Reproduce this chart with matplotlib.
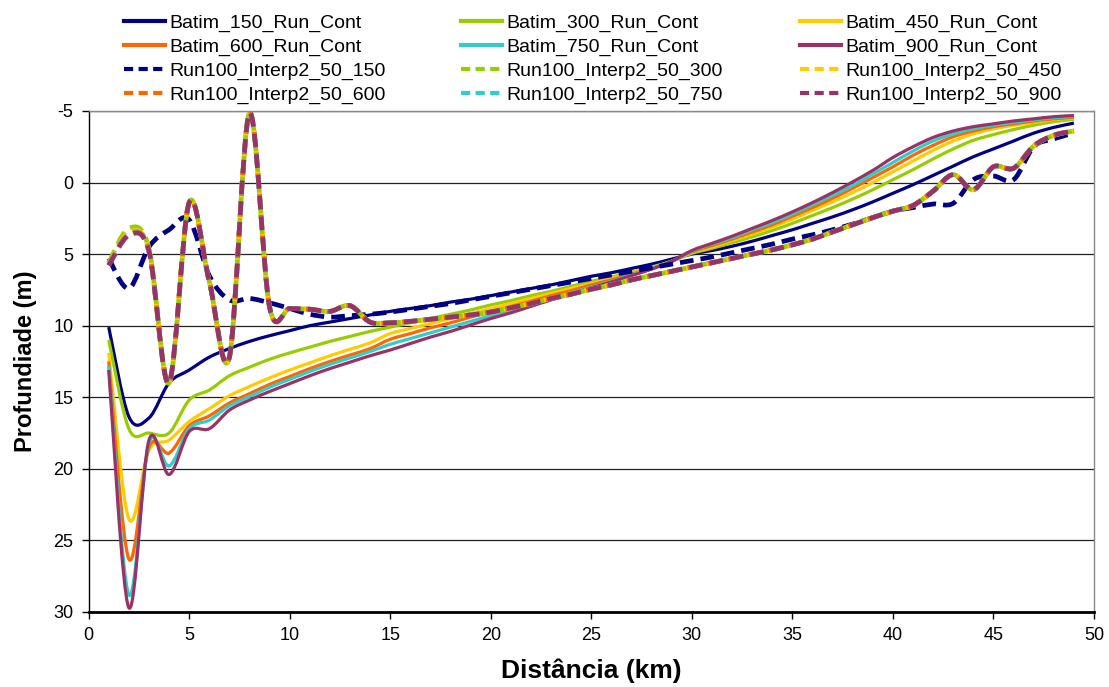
import matplotlib
matplotlib.use("Agg")
import matplotlib.pyplot as plt
from matplotlib.path import Path
from matplotlib.patches import PathPatch
from matplotlib.lines import Line2D

plt.rcParams['font.family'] = ['Liberation Sans', 'DejaVu Sans']
plt.rcParams['axes.unicode_minus'] = False

# Distance along the section (km)
dist_km = list(range(1, 50))

# Depth profiles (m), continuous runs
batim_150 = [10.1, 16.35, 16.45, 14.0, 13.1, 12.2, 11.6, 11.1, 10.7, 10.35, 10.0, 9.75, 9.5, 9.25, 9.0,
             8.8, 8.6, 8.35, 8.15, 7.9, 7.65, 7.4, 7.15, 6.85, 6.55, 6.3, 6.0, 5.7, 5.35, 5.0,
             4.75, 4.45, 4.1, 3.7, 3.3, 2.85, 2.4, 1.9, 1.35, 0.75, 0.15, -0.5, -1.15, -1.8, -2.35,
             -2.9, -3.45, -3.85, -4.15]
batim_300 = [11.0, 17.2, 17.5, 17.5, 15.2, 14.5, 13.5, 12.9, 12.35, 11.9, 11.5, 11.1, 10.75, 10.4, 10.1,
             9.8, 9.5, 9.2, 8.9, 8.55, 8.25, 7.9, 7.6, 7.25, 6.9, 6.6, 6.25, 5.9, 5.5, 4.95,
             4.6, 4.2, 3.8, 3.35, 2.85, 2.3, 1.75, 1.15, 0.5, -0.2, -0.9, -1.65, -2.35, -2.95, -3.35,
             -3.7, -4.0, -4.25, -4.42]
batim_450 = [11.9, 23.5, 18.7, 18.0, 16.7, 15.8, 14.9, 14.25, 13.65, 13.1, 12.6, 12.1, 11.65, 11.2, 10.55,
             10.2, 9.85, 9.5, 9.15, 8.8, 8.45, 8.1, 7.75, 7.4, 7.05, 6.7, 6.3, 5.95, 5.5, 4.9,
             4.5, 4.05, 3.6, 3.1, 2.55, 1.95, 1.35, 0.7, 0.0, -0.75, -1.5, -2.25, -2.9, -3.4, -3.75,
             -4.0, -4.2, -4.4, -4.5]
batim_600 = [12.5, 26.3, 18.5, 18.9, 17.0, 16.3, 15.4, 14.75, 14.1, 13.55, 13.0, 12.5, 12.05, 11.6, 10.95,
             10.55, 10.15, 9.8, 9.4, 9.05, 8.65, 8.3, 7.9, 7.55, 7.15, 6.8, 6.4, 6.0, 5.5, 4.85,
             4.4, 3.95, 3.45, 2.95, 2.35, 1.75, 1.1, 0.4, -0.35, -1.1, -1.9, -2.6, -3.2, -3.6, -3.9,
             -4.1, -4.3, -4.45, -4.55]
batim_750 = [12.8, 28.8, 18.2, 19.8, 17.2, 16.6, 15.6, 14.95, 14.3, 13.75, 13.2, 12.7, 12.25, 11.8, 11.3,
             10.9, 10.5, 10.1, 9.7, 9.3, 8.9, 8.5, 8.1, 7.7, 7.3, 6.9, 6.45, 6.0, 5.5, 4.8,
             4.3, 3.85, 3.3, 2.8, 2.2, 1.55, 0.9, 0.2, -0.6, -1.4, -2.2, -2.9, -3.4, -3.75, -4.0,
             -4.2, -4.38, -4.52, -4.62]
batim_900 = [13.1, 29.7, 18.0, 20.4, 17.4, 17.2, 15.9, 15.2, 14.6, 14.05, 13.5, 13.0, 12.55, 12.1, 11.7,
             11.25, 10.8, 10.4, 9.95, 9.5, 9.1, 8.65, 8.2, 7.8, 7.35, 6.95, 6.5, 6.05, 5.5, 4.75,
             4.25, 3.75, 3.2, 2.65, 2.05, 1.4, 0.7, -0.05, -0.85, -1.75, -2.5, -3.15, -3.6, -3.9, -4.1,
             -4.3, -4.45, -4.6, -4.68]

# Depth profiles (m), Run100 interpolated
interp_150 = [5.3, 7.4, 4.5, 3.3, 2.6, 6.5, 8.2, 8.1, 8.4, 8.8, 9.2, 9.4, 9.3, 9.2, 9.05,
              8.85, 8.65, 8.45, 8.2, 7.95, 7.7, 7.45, 7.2, 6.95, 6.7, 6.45, 6.2, 5.95, 5.7, 5.45,
              5.2, 4.9, 4.6, 4.3, 3.95, 3.65, 3.3, 2.9, 2.45, 2.0, 1.75, 1.5, 1.45, -0.2, -0.45,
              -0.2, -2.5, -3.05, -3.45]
interp_tail = [14.0, 1.4, 6.9, 12.2, -4.85, 8.7, 8.8, 8.85, 9.0, 8.6, 9.75, 9.8,
               9.7, 9.55, 9.4, 9.25, 9.05, 8.75, 8.45, 8.1, 7.8, 7.45, 7.15, 6.8, 6.5, 6.2, 5.9,
               5.6, 5.3, 5.0, 4.7, 4.35, 3.95, 3.45, 2.95, 2.45, 2.0, 1.6, 0.6, -0.55, 0.5, -1.1,
               -1.0, -2.55, -3.3, -3.6]
interp_head_300 = [5.6, 3.2, 4.6]
interp_head_450 = [5.7, 3.5, 4.7]
interp_head_600 = [5.75, 3.6, 4.75]
interp_head_750 = [5.75, 3.65, 4.8]
interp_head_900 = [5.8, 3.7, 4.8]
interp_300 = interp_head_300 + interp_tail
interp_450 = interp_head_450 + interp_tail
interp_600 = interp_head_600 + interp_tail
interp_750 = interp_head_750 + interp_tail
interp_900 = interp_head_900 + interp_tail

labels_cont = ['Batim_150_Run_Cont', 'Batim_300_Run_Cont', 'Batim_450_Run_Cont',
               'Batim_600_Run_Cont', 'Batim_750_Run_Cont', 'Batim_900_Run_Cont']
labels_interp = ['Run100_Interp2_50_150', 'Run100_Interp2_50_300', 'Run100_Interp2_50_450',
                 'Run100_Interp2_50_600', 'Run100_Interp2_50_750', 'Run100_Interp2_50_900']
colors = ['#000080', '#99CC00', '#FFCC00', '#FF6600', '#33CCCC', '#993366']

x_ticks = [0, 5, 10, 15, 20, 25, 30, 35, 40, 45, 50]
y_ticks = [-5, 0, 5, 10, 15, 20, 25, 30]

SOLID_LW = 2.3
DASH_LW = 3.4
DASH = (0, (2.9, 1.5))


def smooth_path(xs, ys):
    """Cubic Bezier path through the points (spreadsheet-style smoothed line)."""
    n = len(xs)
    verts = [(xs[0], ys[0])]
    codes = [Path.MOVETO]
    for i in range(n - 1):
        a = i - 1 if i > 0 else i
        d = i + 2 if i + 2 < n else i + 1
        c1 = (xs[i] + (xs[i + 1] - xs[a]) / 6.0, ys[i] + (ys[i + 1] - ys[a]) / 6.0)
        c2 = (xs[i + 1] - (xs[d] - xs[i]) / 6.0, ys[i + 1] - (ys[d] - ys[i]) / 6.0)
        verts += [c1, c2, (xs[i + 1], ys[i + 1])]
        codes += [Path.CURVE4] * 3
    return Path(verts, codes)


fig = plt.figure(figsize=(11.09, 6.87), dpi=100)
ax = fig.add_axes([0.0799, 0.1092, 0.9066, 0.7293])

cont_series = [batim_150, batim_300, batim_450, batim_600, batim_750, batim_900]
interp_series = [interp_150, interp_300, interp_450, interp_600, interp_750, interp_900]

for ys, c in zip(cont_series, colors):
    ax.add_patch(PathPatch(smooth_path(dist_km, ys), fill=False, edgecolor=c,
                           lw=SOLID_LW, joinstyle='round', capstyle='butt', zorder=3))
for ys, c in zip(interp_series, colors):
    ax.add_patch(PathPatch(smooth_path(dist_km, ys), fill=False, edgecolor=c,
                           lw=DASH_LW, linestyle=DASH, joinstyle='round', capstyle='butt', zorder=4))

ax.set_xlim(0, 50)
ax.set_ylim(30, -5)
ax.set_xticks(x_ticks)
ax.set_yticks(y_ticks)
ax.tick_params(axis='both', direction='out', length=5, width=1, labelsize=13, colors='black', pad=6)
ax.yaxis.grid(True, color='#222222', lw=0.9)
ax.set_axisbelow(True)
for side in ['top', 'right']:
    ax.spines[side].set_color('#888888')
    ax.spines[side].set_linewidth(1)
ax.spines['left'].set_color('black')
ax.spines['left'].set_linewidth(1)
ax.spines['bottom'].set_color('black')
ax.spines['bottom'].set_linewidth(2)

ax.set_xlabel('Distância (km)', fontsize=19, fontweight='bold', labelpad=10)
ax.set_ylabel('Profundiade (m)', fontsize=17, fontweight='bold', labelpad=12)

# Legend: three columns, four rows
W, H = 1109.0, 687.0
col_x = [124, 461, 800]
for k in range(3):
    handles = [Line2D([], [], color=colors[k], lw=3),
               Line2D([], [], color=colors[k + 3], lw=3),
               Line2D([], [], color=colors[k], lw=3, linestyle=(0, (2.2, 1.3))),
               Line2D([], [], color=colors[k + 3], lw=3, linestyle=(0, (2.2, 1.3)))]
    labs = [labels_cont[k], labels_cont[k + 3], labels_interp[k], labels_interp[k + 3]]
    fig.legend(handles, labs, loc='upper left', bbox_to_anchor=(col_x[k] / W, 1 - 14 / H),
               frameon=False, borderpad=0, borderaxespad=0, handlelength=2.1,
               handletextpad=0.25, labelspacing=0.32, fontsize=14)

fig.savefig('out.png', dpi=100)
